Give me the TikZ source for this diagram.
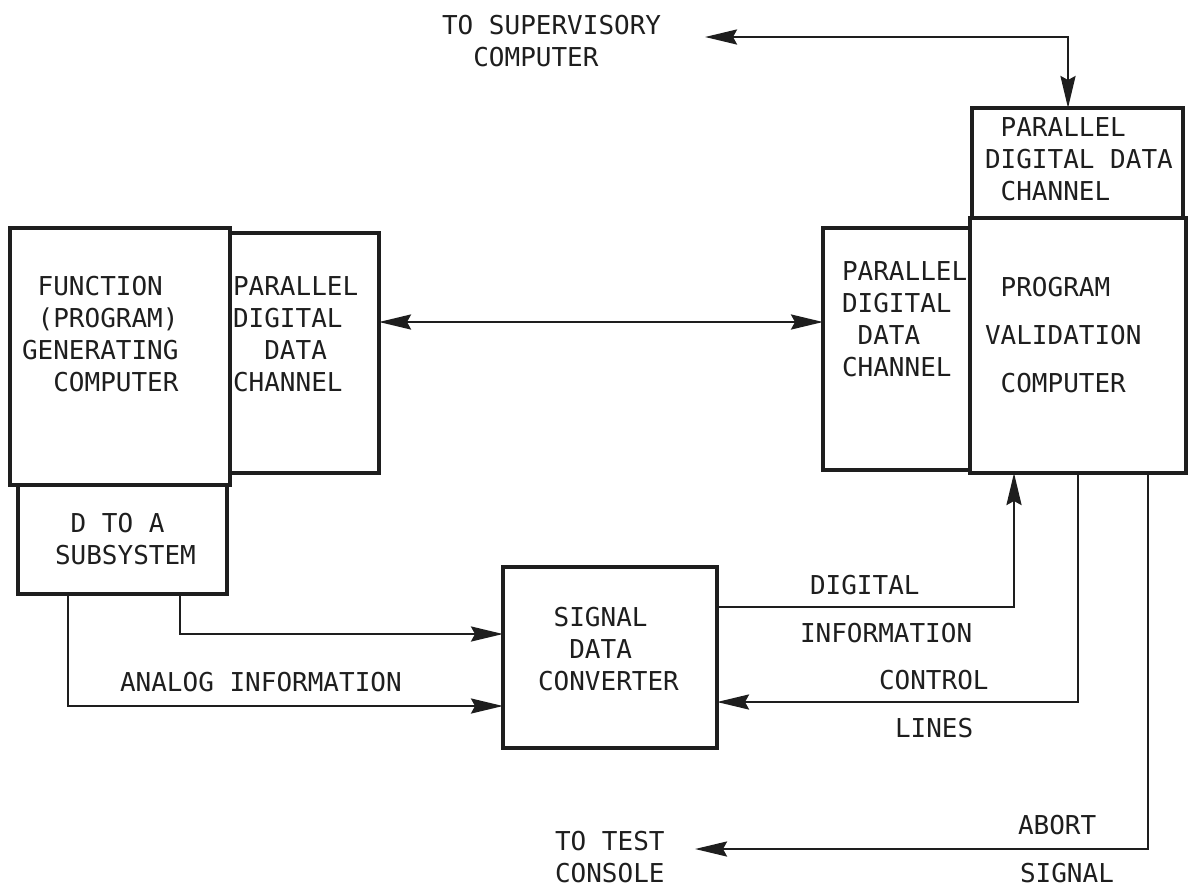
\documentclass[tikz,border=0pt]{standalone}
\usepackage{fontspec}
\setmainfont{DejaVu Sans Mono}
\usetikzlibrary{arrows.meta}
\definecolor{ink}{HTML}{1E1E1E}
\newcommand{\pd}{\phantom{X}}
\begin{document}
\begin{tikzpicture}[x=1pt,y=-1pt,
  box/.style={draw=ink,line width=3.6pt,inner sep=0pt,outer sep=0pt,anchor=north west},
  txt/.style={text=ink,inner sep=0pt,outer sep=0pt,font=\fontsize{26}{32}\selectfont},
  conn/.style={draw=ink,line width=2.5pt},
  tip/.style={-{Stealth[length=32pt,width=15pt,inset=4pt]}},
  tips/.style={{Stealth[length=32pt,width=15pt,inset=4pt]}-{Stealth[length=32pt,width=15pt,inset=4pt]}}]
\useasboundingbox (0,0) rectangle (1188,887);
% boxes
\node[box,minimum width=220pt,minimum height=257pt] (fgc) at (10,228) {};
\node[box,minimum width=149pt,minimum height=240pt] (pdl) at (230,233) {};
\node[box,minimum width=209pt,minimum height=109pt] (dta) at (18,485) {};
\node[box,minimum width=147pt,minimum height=242pt] (pdr) at (823,228) {};
\node[box,minimum width=216pt,minimum height=255pt] (pvc) at (970,218) {};
\node[box,minimum width=211pt,minimum height=110pt] (pdt) at (972,108) {};
\node[box,minimum width=214pt,minimum height=181pt] (sdc) at (503,567) {};
% box texts
\node[txt,anchor=west,align=left] (tfgc) at (22,334.5) {\pd FUNCTION\\\pd(PROGRAM)\\GENERATING\\\pd\pd COMPUTER};
\node[txt,anchor=west,align=left] (tpdl) at (233,334.5) {PARALLEL\\DIGITAL\\\pd\pd DATA\\CHANNEL};
\node[txt,anchor=west,align=left] (tdta) at (55,539) {\pd D TO A\\SUBSYSTEM};
\node[txt,anchor=west,align=left] (tpdr) at (842,319.5) {PARALLEL\\DIGITAL\\\pd DATA\\CHANNEL};
\node[txt,anchor=west,align=left] (tpvc) at (985,335) {\pd PROGRAM\\[16pt]VALIDATION\\[16pt]\pd COMPUTER};
\node[txt,anchor=west,align=left] (tpdt) at (985,159) {\pd PARALLEL\\DIGITAL DATA\\\pd CHANNEL};
\node[txt,anchor=west,align=left] (tsdc) at (538,649) {\pd SIGNAL\\\pd\pd DATA\\CONVERTER};
% free labels
\node[txt,anchor=west,align=left] (tsup) at (442,41) {TO SUPERVISORY\\\pd\pd COMPUTER};
\node[txt,anchor=west,align=left] (ttc) at (555,857.5) {TO TEST\\CONSOLE};
\node[txt,anchor=west] (lana) at (120,682) {ANALOG INFORMATION};
\node[txt,anchor=west] (ldig) at (810,585) {DIGITAL};
\node[txt,anchor=west] (linf) at (800,633) {INFORMATION};
\node[txt,anchor=west] (lcon) at (879,680) {CONTROL};
\node[txt,anchor=west] (llin) at (895,728) {LINES};
\node[txt,anchor=west] (labo) at (1018,825) {ABORT};
\node[txt,anchor=west] (lsig) at (1020,873) {SIGNAL};
% routing coordinates
\coordinate (chy) at (600,322);
\coordinate (sup) at (705,37);
\coordinate (supc) at (1068,37);
\coordinate (a1) at (180,634);
\coordinate (a2) at (68,706);
\coordinate (d1) at (1014,607);
\coordinate (c1) at (1078,702);
\coordinate (ab) at (1148,849);
\coordinate (tc) at (695,849);
% connectors
\draw[conn,tips] (chy -| pdl.east) -- (chy -| pdr.west);
\draw[conn,tips] (sup) -- (supc) -- (supc |- pdt.north);
\draw[conn,tip] (a1 |- dta.south) -- (a1) -- (a1 -| sdc.west);
\draw[conn,tip] (a2 |- dta.south) -- (a2) -- (a2 -| sdc.west);
\draw[conn,tip] (d1 -| sdc.east) -- (d1) -- (d1 |- pvc.south);
\draw[conn,tip] (c1 |- pvc.south) -- (c1) -- (c1 -| sdc.east);
\draw[conn,tip] (ab |- pvc.south) -- (ab) -- (tc);
\end{tikzpicture}
\end{document}
